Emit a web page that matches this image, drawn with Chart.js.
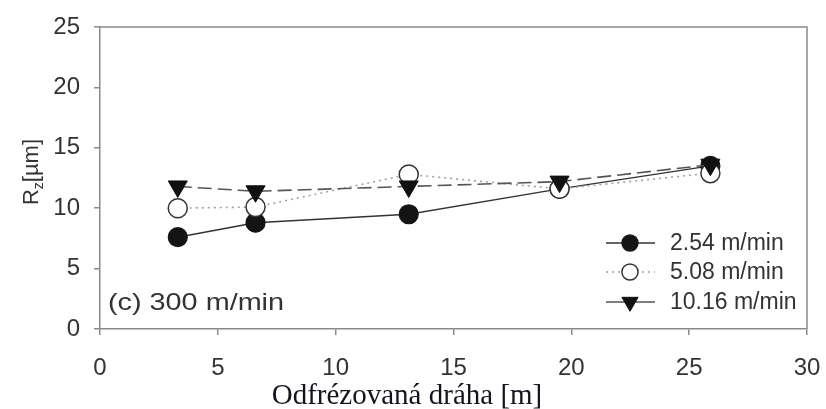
<!DOCTYPE html>
<html>
<head>
<meta charset="utf-8">
<script src="https://cdn.jsdelivr.net/npm/chart.js@4"></script>
<style>
  html, body { margin: 0; padding: 0; background: #fff; }
  #wrap { width: 826px; height: 409px; }
</style>
</head>
<body>
<div id="wrap"><canvas id="rz-chart" width="826" height="409"></canvas></div>
<script>
  // odfrezovana draha [m]
  var distance = [3.3, 6.6, 13.1, 19.5, 25.9];

  var rz254 = [7.6, 8.8, 9.5, 11.6, 13.5];
  var rz508 = [10.0, 10.1, 12.8, 11.6, 12.9];
  var rz1016 = [11.8, 11.4, 11.8, 12.2, 13.6];

  var seriesLabels = ['2.54 m/min', '5.08 m/min', '10.16 m/min'];
  var xTicks = [0, 5, 10, 15, 20, 25, 30];
  var yTicks = [0, 5, 10, 15, 20, 25];

  function pts(ys) {
    return distance.map(function (x, i) { return { x: x, y: ys[i] }; });
  }

  var sansFont = '"Liberation Sans", Arial, sans-serif';
  var serifFont = '"Liberation Serif", "Times New Roman", serif';

  // frame on top + right, axis titles, note, legend with line+marker
  var extras = {
    id: 'extras',
    afterDatasetsDraw: function (chart) {
      var ctx = chart.ctx;
      var a = chart.chartArea;
      ctx.save();
      ctx.strokeStyle = '#8a8a8a';
      ctx.lineWidth = 1.5;
      ctx.beginPath();
      ctx.moveTo(a.left, a.top);
      ctx.lineTo(a.right, a.top);
      ctx.lineTo(a.right, a.bottom);
      ctx.stroke();
      ctx.restore();

      // x title
      ctx.save();
      ctx.fillStyle = '#14141e';
      ctx.font = '29px ' + serifFont;
      ctx.textAlign = 'center';
      ctx.textBaseline = 'alphabetic';
      ctx.fillText('Odfrézovaná dráha [m]', 407, 404);
      ctx.restore();

      // y title: R_z[µm]
      ctx.save();
      ctx.translate(30, 172);
      ctx.rotate(-Math.PI / 2);
      ctx.fillStyle = '#333';
      ctx.textBaseline = 'alphabetic';
      ctx.font = '22px ' + sansFont;
      var total = ctx.measureText('R').width + ctx.measureText('[µm]').width;
      ctx.font = '14px ' + sansFont;
      total += ctx.measureText('z').width;
      var x = -total / 2;
      ctx.font = '22px ' + sansFont;
      ctx.fillText('R', x, 8);
      x += ctx.measureText('R').width;
      ctx.font = '14px ' + sansFont;
      ctx.fillText('z', x, 13);
      x += ctx.measureText('z').width;
      ctx.font = '22px ' + sansFont;
      ctx.fillText('[µm]', x, 8);
      ctx.restore();

      // panel note
      ctx.save();
      ctx.fillStyle = '#333';
      ctx.font = '24px ' + sansFont;
      ctx.textBaseline = 'alphabetic';
      ctx.translate(108, 310);
      ctx.scale(1.2, 1);
      ctx.fillText('(c) 300 m/min', 0, 0);
      ctx.restore();

      // legend
      var rows = [243, 272, 302];
      chart.data.datasets.forEach(function (ds, i) {
        var y = rows[i];
        ctx.save();
        ctx.strokeStyle = ds.borderColor;
        ctx.lineWidth = ds.borderWidth;
        ctx.setLineDash(i === 2 ? [] : (ds.borderDash || []));
        ctx.beginPath();
        ctx.moveTo(606, y);
        ctx.lineTo(655, y);
        ctx.stroke();
        ctx.setLineDash([]);
        ctx.fillStyle = ds.pointBackgroundColor;
        ctx.strokeStyle = ds.pointBorderColor;
        ctx.lineWidth = ds.pointBorderWidth;
        Chart.helpers.drawPoint(ctx, {
          pointStyle: ds.pointStyle,
          rotation: ds.pointRotation || 0,
          radius: ds.pointRadius * 0.85,
          borderWidth: ds.pointBorderWidth
        }, 630, y);
        ctx.fillStyle = '#333';
        ctx.font = '23px ' + sansFont;
        ctx.textBaseline = 'middle';
        ctx.fillText(ds.label, 670, y + 1);
        ctx.restore();
      });
    }
  };

  var ctx = document.getElementById('rz-chart').getContext('2d');
  var chart = new Chart(ctx, {
    type: 'line',
    data: {
      datasets: [{
        label: seriesLabels[0],
        data: pts(rz254),
        borderColor: '#333',
        borderWidth: 1.4,
        pointStyle: 'circle',
        pointRadius: 9.5,
        pointBackgroundColor: '#141414',
        pointBorderColor: '#141414',
        pointBorderWidth: 1.2,
        order: 3
      }, {
        label: seriesLabels[1],
        data: pts(rz508),
        borderColor: '#a0a0a0',
        borderWidth: 1.6,
        borderDash: [2, 4],
        pointStyle: 'circle',
        pointRadius: 9.5,
        pointBackgroundColor: '#fff',
        pointBorderColor: '#333',
        pointBorderWidth: 1.5,
        order: 2
      }, {
        label: seriesLabels[2],
        data: pts(rz1016),
        borderColor: '#555',
        borderWidth: 1.6,
        borderDash: [14, 6],
        pointStyle: 'triangle',
        pointRotation: 180,
        pointRadius: 11,
        pointBackgroundColor: '#111',
        pointBorderColor: '#111',
        pointBorderWidth: 1,
        order: 1
      }]
    },
    options: {
      responsive: false,
      animation: false,
      layout: { padding: { top: 27, right: 19, bottom: 0, left: 0 } },
      plugins: {
        legend: { display: false },
        tooltip: { enabled: false }
      },
      scales: {
        x: {
          type: 'linear',
          min: 0,
          max: 30,
          afterBuildTicks: function (s) { s.ticks = xTicks.map(function (v) { return { value: v }; }); },
          afterFit: function (s) { s.height = 80; s.paddingLeft = 0; s.paddingRight = 0; },
          ticks: {
            color: '#333',
            font: { family: sansFont, size: 24 },
            padding: 19,
            maxRotation: 0
          },
          grid: { drawOnChartArea: false, drawTicks: true, tickLength: 6, color: '#8a8a8a', lineWidth: 1.5 },
          border: { display: true, color: '#8a8a8a', width: 1.5 }
        },
        y: {
          min: 0,
          max: 25,
          afterBuildTicks: function (s) { s.ticks = yTicks.map(function (v) { return { value: v }; }); },
          afterFit: function (s) { s.width = 100; s.paddingTop = 0; s.paddingBottom = 0; },
          ticks: {
            color: '#333',
            font: { family: sansFont, size: 24 },
            padding: 14
          },
          grid: { drawOnChartArea: false, drawTicks: true, tickLength: 6, color: '#8a8a8a', lineWidth: 1.5 },
          border: { display: true, color: '#8a8a8a', width: 1.5 }
        }
      }
    },
    plugins: [extras]
  });
</script>
</body>
</html>
